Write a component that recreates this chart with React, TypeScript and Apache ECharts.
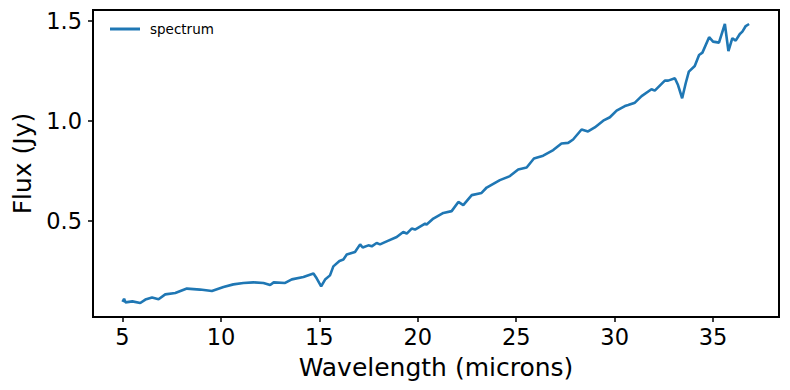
import React, { useEffect, useRef } from "react";
import * as echarts from "echarts";

const wavelength = [
  5.0, 5.08, 5.15, 5.5, 5.9, 6.16, 6.5, 6.83, 7.17, 7.68, 8.27, 8.94, 9.54, 10.13, 10.63, 11.14,
  11.65, 12.16, 12.5, 12.68, 13.26, 13.6, 14.19, 14.7, 14.87, 15.09, 15.29, 15.54, 15.71, 16.02,
  16.22, 16.39, 16.81, 17.07, 17.2, 17.49, 17.66, 17.91, 18.08, 18.42, 18.93, 19.26, 19.44, 19.69,
  19.86, 20.37, 20.45, 20.79, 21.3, 21.72, 22.06, 22.31, 22.74, 23.24, 23.5, 24.17, 24.68, 25.1,
  25.53, 25.9, 26.37, 26.88, 27.3, 27.64, 27.89, 28.32, 28.65, 28.99, 29.42, 29.76, 30.1, 30.52,
  30.69, 31.03, 31.37, 31.87, 32.04, 32.55, 32.72, 33.06, 33.22, 33.43, 33.61, 33.77, 34.07, 34.29,
  34.46, 34.8, 35.0, 35.3, 35.6, 35.78, 35.98, 36.15, 36.36, 36.49, 36.66, 36.83,
];
const flux = [
  0.095, 0.11, 0.092, 0.097, 0.089, 0.106, 0.116, 0.108, 0.132, 0.139, 0.161, 0.156, 0.149, 0.169, 0.182, 0.189,
  0.192, 0.189, 0.179, 0.192, 0.189, 0.207, 0.219, 0.236, 0.211, 0.172, 0.206, 0.227, 0.272, 0.299,
  0.306, 0.331, 0.344, 0.382, 0.366, 0.377, 0.372, 0.389, 0.382, 0.397, 0.419, 0.444, 0.436, 0.461,
  0.456, 0.486, 0.481, 0.511, 0.539, 0.548, 0.594, 0.578, 0.628, 0.639, 0.666, 0.703, 0.723, 0.756,
  0.766, 0.811, 0.825, 0.853, 0.886, 0.889, 0.906, 0.956, 0.946, 0.966, 1.0, 1.017, 1.05, 1.073,
  1.078, 1.09, 1.123, 1.157, 1.15, 1.2, 1.2, 1.212, 1.178, 1.112, 1.187, 1.245, 1.273, 1.328,
  1.34, 1.417, 1.395, 1.39, 1.483, 1.348, 1.412, 1.4, 1.433, 1.445, 1.473, 1.483,
];
const xTicks = [5, 10, 15, 20, 25, 30, 35];
const yTicks = [0.5, 1.0, 1.5];
const seriesName = "spectrum";

const FONT = "DejaVu Sans";

export default function App() {
  const ref = useRef<HTMLDivElement>(null);
  useEffect(() => {
    if (!ref.current) return;
    const chart = echarts.init(ref.current, null, { renderer: "svg" });
    const data = wavelength.map((w, i) => [w, flux[i]]);
    chart.setOption({
      animation: false,
      backgroundColor: "#ffffff",
      textStyle: { fontFamily: FONT },
      grid: {
        left: 93,
        right: 11,
        top: 10,
        bottom: 73,
        containLabel: false,
        outerBoundsMode: "none",
        show: true,
        borderColor: "#000000",
        borderWidth: 2,
        backgroundColor: "transparent",
      },
      legend: {
        show: true,
        left: 105,
        top: 17,
        itemWidth: 30,
        itemHeight: 3,
        icon: "rect",
        textStyle: { fontFamily: FONT, fontSize: 13.5, color: "#000", padding: [0, 0, 0, 5] },
        data: [{ name: seriesName, itemStyle: { color: "#1f77b4" } }],
      },
      xAxis: {
        type: "value",
        min: 3.5,
        max: 38.35,
        name: "Wavelength (microns)",
        nameLocation: "middle",
        nameGap: 38,
        nameTextStyle: { fontFamily: FONT, fontSize: 25, color: "#000" },
        axisLine: { show: false },
        splitLine: { show: false },
        axisTick: {
          show: true,
          length: 5,
          lineStyle: { color: "#000", width: 1.5 },
          customValues: xTicks,
        },
        axisLabel: {
          fontFamily: FONT,
          fontSize: 22.5,
          color: "#000",
          margin: 8,
          customValues: xTicks,
          formatter: (v: number) => String(v),
        },
      },
      yAxis: {
        type: "value",
        min: 0.019,
        max: 1.553,
        name: "Flux (Jy)",
        nameLocation: "middle",
        nameGap: 58,
        nameTextStyle: { fontFamily: FONT, fontSize: 25, color: "#000" },
        axisLine: { show: false },
        splitLine: { show: false },
        axisTick: {
          show: true,
          length: 5,
          lineStyle: { color: "#000", width: 1.5 },
          customValues: yTicks,
        },
        axisLabel: {
          fontFamily: FONT,
          fontSize: 22.5,
          color: "#000",
          margin: 11,
          customValues: yTicks,
          formatter: (v: number) => v.toFixed(1),
        },
      },
      series: [
        {
          name: seriesName,
          type: "line",
          data,
          showSymbol: false,
          symbol: "none",
          lineStyle: { color: "#1f77b4", width: 2.6 },
          itemStyle: { color: "#1f77b4" },
        },
      ],
    });
    return () => chart.dispose();
  }, []);
  return <div ref={ref} style={{ width: 790, height: 390, position: "absolute", left: 0, top: 0 }} />;
}
